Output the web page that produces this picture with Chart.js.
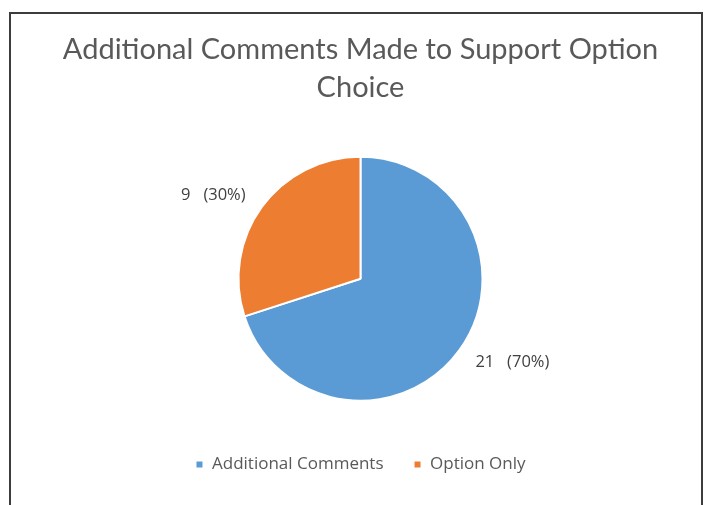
<!DOCTYPE html>
<html>
<head>
<meta charset="utf-8">
<script src="https://cdn.jsdelivr.net/npm/chart.js@4"></script>
<style>
  body { margin: 0; background: #fff; }
  #wrap { position: relative; width: 707px; height: 505px; overflow: hidden; }
  #frame {
    position: absolute; left: 9px; top: 12px; width: 690px; height: 520px;
    border: 2px solid #3c3c3c; border-bottom: none; pointer-events: none;
  }
</style>
</head>
<body>
<div id="wrap">
  <canvas id="mychart" width="707" height="505"></canvas>
  <div id="frame"></div>
</div>
<script>
const categories = ["Additional Comments", "Option Only"];
const counts = [21, 9];
const sliceColors = ["#5B9BD5", "#ED7D31"];
const titleLines = ["Additional Comments Made to Support Option", "Choice"];

// value + percent labels outside each slice
const outsideLabels = {
  id: "outsideLabels",
  afterDatasetsDraw(chart) {
    const ctx = chart.ctx;
    const meta = chart.getDatasetMeta(0);
    const total = counts.reduce((a, b) => a + b, 0);
    ctx.save();
    ctx.font = "16.5px 'Open Sans'";
    ctx.fillStyle = "#404040";
    ctx.textBaseline = "middle";
    meta.data.forEach((arc, i) => {
      const mid = (arc.startAngle + arc.endAngle) / 2;
      const r = arc.outerRadius + 20;
      const x = arc.x + Math.cos(mid) * r;
      const y = arc.y + Math.sin(mid) * r;
      ctx.textAlign = Math.cos(mid) >= 0 ? "left" : "right";
      const pct = Math.round(counts[i] / total * 100);
      ctx.fillText(counts[i] + "   (" + pct + "%)", x, y);
    });
    ctx.restore();
  }
};

const ctx = document.querySelector("#mychart").getContext("2d");
new Chart(ctx, {
  type: "pie",
  data: {
    labels: categories,
    datasets: [{
      data: counts,
      backgroundColor: sliceColors,
      borderColor: "#ffffff",
      borderWidth: 2,
      radius: 122
    }]
  },
  options: {
    responsive: false,
    animation: false,
    layout: { padding: { left: 14, right: 0, top: 0, bottom: 22 } },
    plugins: {
      title: {
        display: true,
        text: titleLines,
        color: "#595959",
        font: { family: "Lato", size: 29, weight: "normal", lineHeight: 1.3 },
        padding: { top: 31, bottom: 25 }
      },
      legend: {
        position: "bottom",
        labels: {
          usePointStyle: true,
          pointStyle: "rect",
          boxWidth: 8,
          boxHeight: 8,
          padding: 30,
          color: "#595959",
          font: { family: "Open Sans", size: 17 }
        }
      },
      tooltip: { enabled: false }
    }
  },
  plugins: [outsideLabels]
});
</script>
</body>
</html>
